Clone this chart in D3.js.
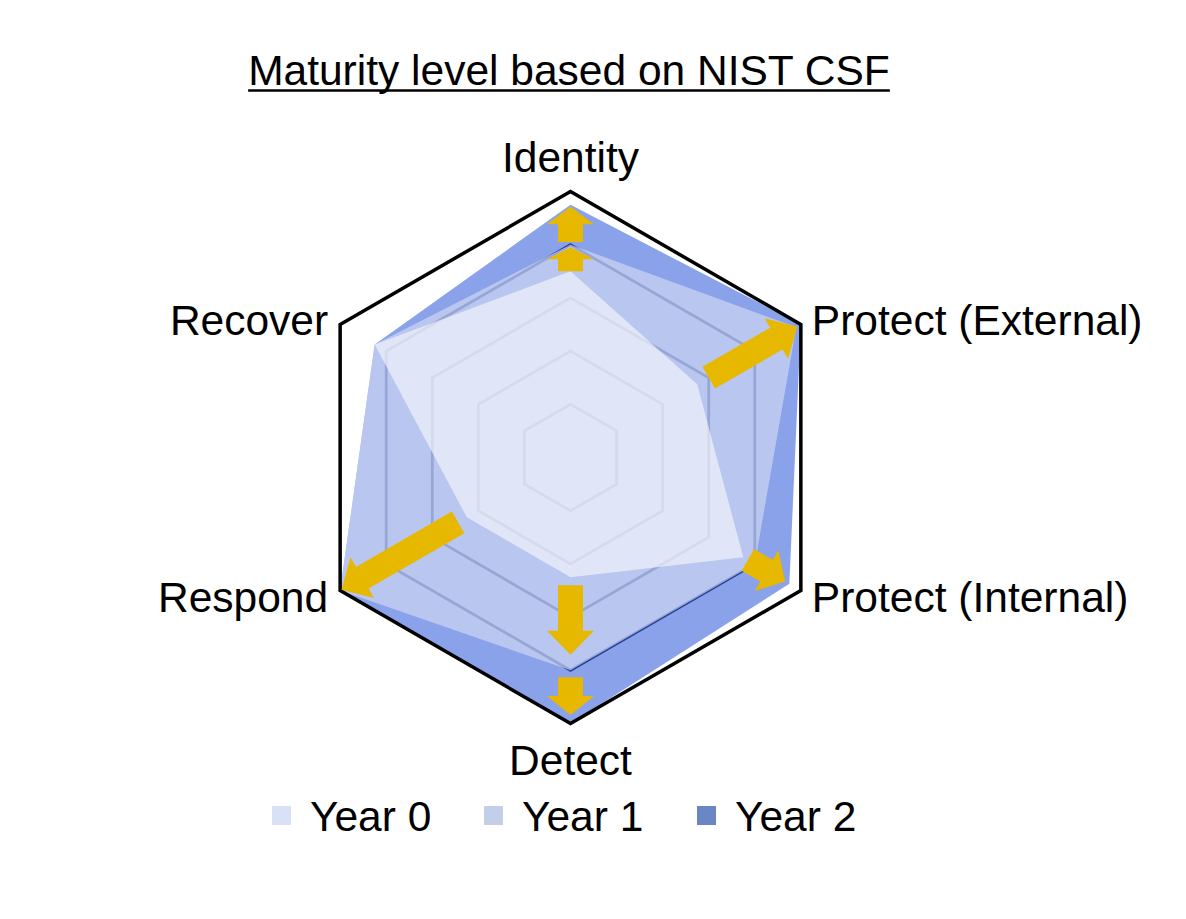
<!DOCTYPE html>
<html>
<head>
<meta charset="utf-8">
<script src="https://cdn.jsdelivr.net/npm/d3@7"></script>
<style>
  html, body { margin: 0; padding: 0; background: #fff; }
  svg { display: block; }
  text { font-family: "Liberation Sans", Arial, sans-serif; fill: #000; }
</style>
</head>
<body>
<svg id="chart" width="1186" height="919"></svg>
<script>
// ---- data ----
const categories = ["Identity", "Protect (External)", "Protect (Internal)", "Detect", "Respond", "Recover"];
const seriesNames = ["Year 0", "Year 1", "Year 2"];
const year0 = [3.5, 2.75, 3.75, 2.25, 2.25, 4.25];
const year1 = [4, 4.9, 4, 4, 5, 4.25];
const year2 = [4.75, 5, 4.75, 5, 5, 4.25];
const levels = [1, 2, 3, 4, 5];
// improvement arrows: axis index, start value, end value
const arrowAxis = [0, 0, 1, 2, 3, 3, 4];
const arrowFrom = [3.5, 4.05, 3.0, 3.85, 2.4, 4.13, 2.44];
const arrowTo   = [3.95, 4.72, 4.92, 4.66, 3.71, 4.84, 4.97];
const title = "Maturity level based on NIST CSF";

// ---- layout ----
const svg = d3.select("#chart");
const cx = 570.5, cy = 457.5, R = 266;
const r = d3.scaleLinear().domain([0, 5]).range([0, R]);
const ang = d3.scaleLinear().domain([0, categories.length]).range([0, 2 * Math.PI]);
const g = svg.append("g").attr("transform", `translate(${cx},${cy})`);

const radial = d3.lineRadial()
  .angle((d, i) => ang(i))
  .radius(d => r(d))
  .curve(d3.curveLinearClosed);

// grid rings (inner levels)
g.selectAll("path.ring")
  .data(levels.slice(0, -1))
  .join("path")
  .attr("class", "ring")
  .attr("d", l => radial(categories.map(() => l)))
  .attr("fill", "none")
  .attr("stroke", "#0a1030")
  .attr("stroke-width", 2.8);

// series fills: Year 2 bottom, Year 0 on top
const fills = [
  { vals: year2, color: "rgb(60,100,220)", op: 0.6 },
  { vals: year1, color: "rgb(208,216,243)", op: 0.67 },
  { vals: year0, color: "rgb(246,247,250)", op: 0.65 }
];
g.selectAll("path.series")
  .data(fills)
  .join("path")
  .attr("class", "series")
  .attr("d", d => radial(d.vals))
  .attr("fill", d => d.color)
  .attr("fill-opacity", d => d.op)
  .attr("stroke", "none");

// outer ring
g.append("path")
  .attr("d", radial(categories.map(() => levels[levels.length - 1])))
  .attr("fill", "none")
  .attr("stroke", "#000")
  .attr("stroke-width", 3.5)
  .attr("stroke-linejoin", "miter");

// arrows
function arrowPath(ai, from, to) {
  const a = ang(ai) - Math.PI / 2;
  const ux = Math.cos(a), uy = Math.sin(a);
  const vx = -uy, vy = ux;
  const r0 = r(from), r1 = r(to);
  const L = r1 - r0;
  const h = Math.min(L * 0.5, 24);
  const sw = 12.5, hw = 23.5;
  const pts = [[r0, -sw], [r1 - h, -sw], [r1 - h, -hw], [r1, 0], [r1 - h, hw], [r1 - h, sw], [r0, sw]];
  return "M" + pts.map(([s, t]) => [s * ux + t * vx, s * uy + t * vy].map(v => v.toFixed(2)).join(",")).join("L") + "Z";
}
g.selectAll("path.arrow")
  .data(arrowAxis.map((a, i) => ({ a, f: arrowFrom[i], t: arrowTo[i] })))
  .join("path")
  .attr("class", "arrow")
  .attr("d", d => arrowPath(d.a, d.f, d.t))
  .attr("fill", "#e6b800");

// axis labels
const fs = 42.5;
categories.forEach((c, i) => {
  const a = ang(i) - Math.PI / 2;
  const x = r(5) * Math.cos(a), y = r(5) * Math.sin(a);
  const t = g.append("text").text(c).style("font-size", fs + "px");
  if (Math.abs(Math.cos(a)) < 0.01) {
    t.attr("text-anchor", "middle").attr("x", x);
    if (y < 0) t.attr("y", y - 20); else t.attr("y", y + 51);
  } else {
    const dy = y < 0 ? 10 : 21;
    if (Math.cos(a) > 0) t.attr("text-anchor", "start").attr("x", x + 11).attr("y", y + dy);
    else t.attr("text-anchor", "end").attr("x", x - 12).attr("y", y + dy);
  }
});

// title
const tt = svg.append("text").attr("x", 569).attr("y", 85)
  .attr("text-anchor", "middle").style("font-size", fs + "px").text(title);
const tw = tt.node().getComputedTextLength();
svg.append("line").attr("x1", 569 - tw / 2).attr("x2", 569 + tw / 2)
  .attr("y1", 90.5).attr("y2", 90.5).attr("stroke", "#000").attr("stroke-width", 2.5);

// legend
const legendColors = ["#d9e1f6", "#c3cfe8", "#6a86c4"];
const legendX = [272, 484, 697];
seriesNames.forEach((s, i) => {
  svg.append("rect").attr("x", legendX[i]).attr("y", 806).attr("width", 19).attr("height", 19)
    .attr("fill", legendColors[i]);
  svg.append("text").attr("x", legendX[i] + 38).attr("y", 831)
    .style("font-size", fs + "px").text(s);
});
</script>
</body>
</html>
